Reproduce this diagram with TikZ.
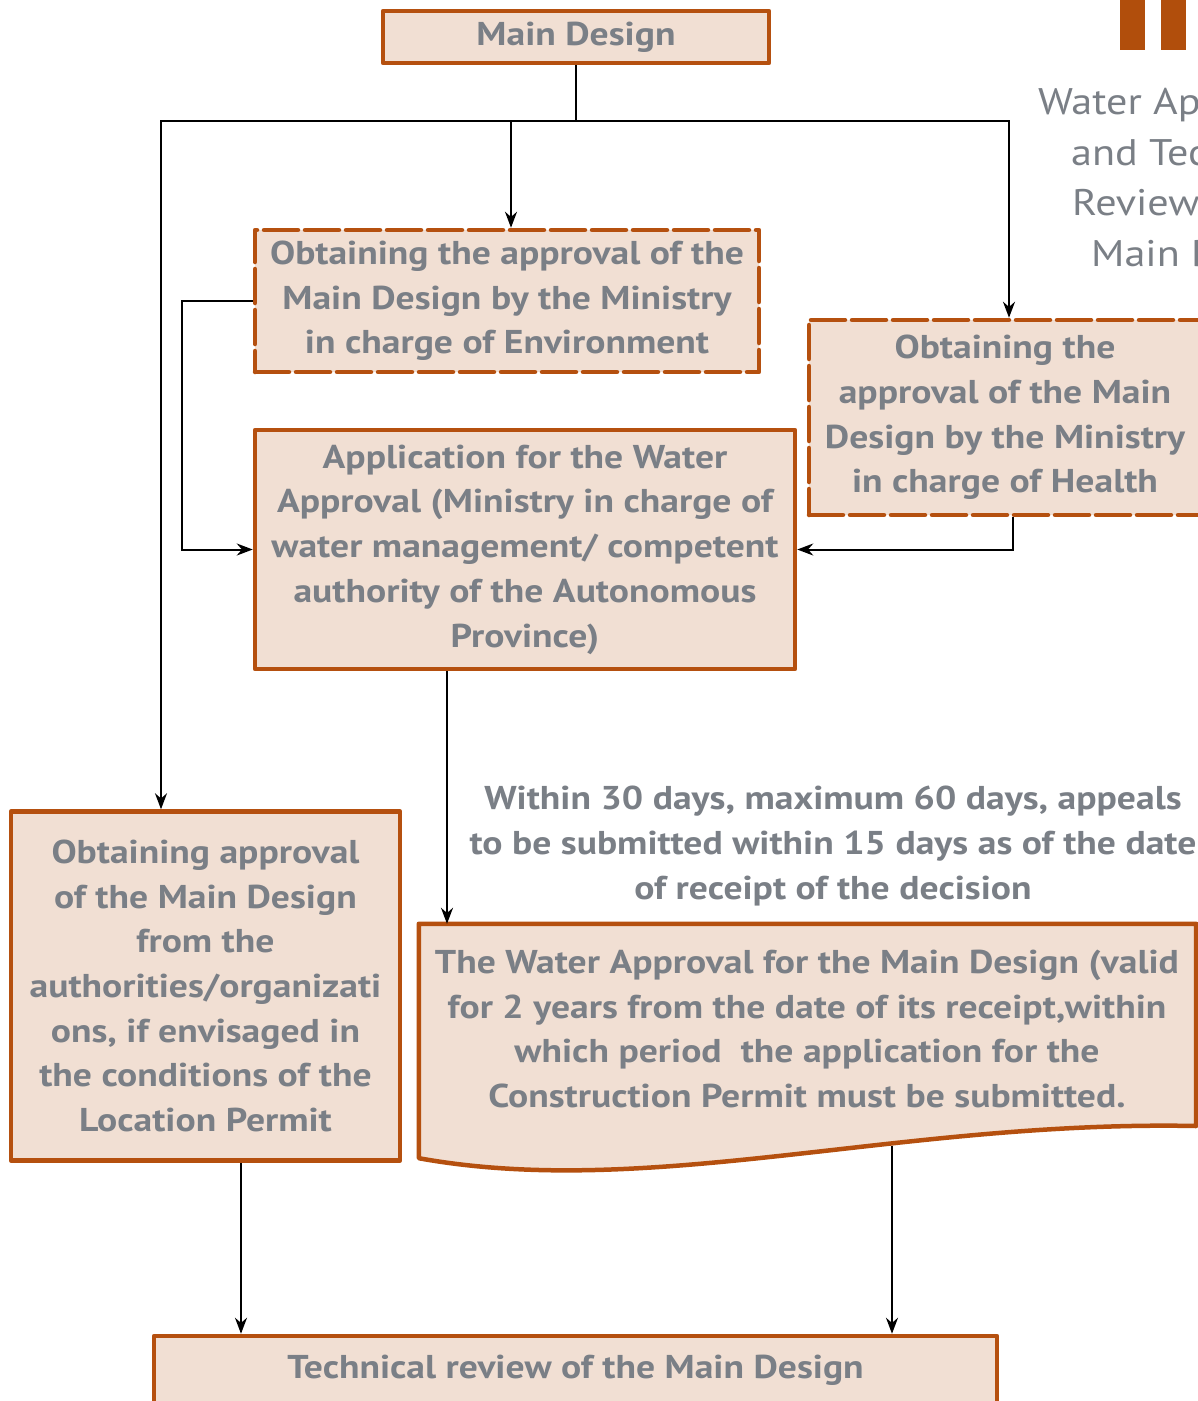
\documentclass[tikz,border=0pt]{standalone}
\usepackage{fontspec}
\setmainfont{PT Sans}[FakeStretch=1.14]
\usetikzlibrary{arrows.meta}
\definecolor{boxfill}{HTML}{F1DFD3}
\definecolor{boxline}{HTML}{B5500F}
\definecolor{txtgray}{HTML}{7A7F86}
\definecolor{barorange}{HTML}{B14E0C}

\begin{document}
\begin{tikzpicture}[x=1pt,y=-1pt,
  every node/.style={font=\bfseries\fontsize{33}{44.7}\selectfont, text=txtgray},
  stepbox/.style={draw=boxline, fill=boxfill, line width=4.5pt, rectangle,
    inner sep=0pt, align=center, line join=round},
  dashbox/.style={stepbox, dash pattern=on 34pt off 7pt, line cap=round},
  arr/.style={draw=black, line width=2pt, -{Stealth[length=16pt,width=12pt]}},
  link/.style={draw=black, line width=2pt}]
\useasboundingbox (0,0) rectangle (1198,1401);
\clip (0,0) rectangle (1198,1401);

% header decoration and side title
\fill[barorange] (1120,0) rectangle (1145,50);
\fill[barorange] (1161,0) rectangle (1186,50);
\node[font=\mdseries\fontsize{37}{50.7}\selectfont, align=left, inner sep=0pt,
  anchor=north west] (title) at (1038,88)
  {Water Approval\\\hspace*{33pt}and Technical\\\hspace*{34pt}Review of the\\\hspace*{53pt}Main Design};

% process steps
\node[stepbox, minimum width=386pt, minimum height=52pt] (main) at (576,37)
  {\raisebox{-3pt}{Main Design}};
\node[dashbox, minimum width=504pt, minimum height=142pt] (env) at (507,301)
  {Obtaining the approval of the\\Main Design by the Ministry\\in charge of Environment};
\node[dashbox, minimum width=392pt, minimum height=195pt] (health) at (1005,417.5)
  {Obtaining the\\approval of the Main\\Design by the Ministry\\in charge of Health};
\node[stepbox, minimum width=540pt, minimum height=239pt] (app) at (525,549.5)
  {Application for the Water\\Approval (Ministry in charge of\\water management/ competent\\authority of the Autonomous\\Province)};
\node[stepbox, minimum width=389pt, minimum height=349pt] (obt) at (205.5,986)
  {Obtaining approval\\of the Main Design\\from the\\authorities/organizati\\ons, if envisaged in\\the conditions of the\\Location Permit};
\node[stepbox, minimum width=843pt, minimum height=68pt] (tech) at (575.5,1370)
  {Technical review of the Main Design};

% document-shaped result
\node[minimum width=777pt, minimum height=234pt, inner sep=0pt] (doc) at (807.5,1041) {};
\filldraw[draw=boxline, fill=boxfill, line width=4.5pt, line join=round]
  (doc.north west) -- (doc.north east) -- (1196,1126)
  .. controls (900,1120) and (650,1200) .. (doc.south west) -- cycle;
\node[align=center] (doctext) at (807,1029)
  {The Water Approval for the Main Design (valid\\for 2 years from the date of its receipt,within\\which period\ \ the application for the\\Construction Permit must be submitted.};
\coordinate (docout) at (892,1146);

% deadline note
\node[align=center] (note) at (833,846)
  {Within 30 days, maximum 60 days, appeals\\to be submitted within 15 days as of the date\\of receipt of the decision};

% connectors
\draw[link] (main.south) -- ++(0,56) coordinate (hub);
\draw[arr] (hub) -| ([xshift=-44.5pt]obt.north);
\draw[arr] (hub) -| ([xshift=4pt]health.north);
\coordinate (envtop) at ([xshift=4pt]env.north);
\draw[arr] (hub -| envtop) -- (envtop);
\draw[arr] (env.west) -- ++(-71,0) |- (app.west);
\draw[arr] ([xshift=8pt]health.south) |- (app.east);
\draw[arr] ([xshift=-78pt]app.south) -- ([xshift=-78pt]app.south |- doc.north);
\draw[arr] (docout) -- (docout |- tech.north);
\draw[arr] ([xshift=35.5pt]obt.south) -- ([xshift=35.5pt]obt.south |- tech.north);
\end{tikzpicture}
\end{document}
